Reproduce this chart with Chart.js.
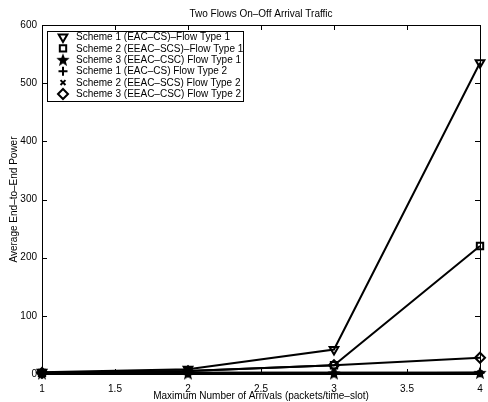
<!DOCTYPE html>
<html>
<head>
<meta charset="utf-8">
<script src="https://cdn.jsdelivr.net/npm/chart.js@4/dist/chart.umd.min.js"></script>
<style>
    html, body { margin: 0; padding: 0; background: #fff; }
    #wrap { width: 488px; height: 402px; }
</style>
</head>
<body>
<div id="wrap"><canvas id="chart" width="488" height="402"></canvas></div>
<script>
const xValues = [1, 2, 3, 4];
const xTicks = [1, 1.5, 2, 2.5, 3, 3.5, 4];
const yTicks = [0, 100, 200, 300, 400, 500, 600];

const s1f1 = [3, 8, 42, 535];
const s2f1 = [2, 5, 15, 220];
const s3f1 = [1, 1, 1, 2];
const s1f2 = [1, 2, 2, 2];
const s2f2 = [1, 2, 2, 2];
const s3f2 = [2, 5, 15, 28];

const seriesLabels = [
    'Scheme 1 (EAC\u2013CS)\u2013Flow Type 1',
    'Scheme 2 (EEAC\u2013SCS)\u2013Flow Type 1',
    'Scheme 3 (EEAC\u2013CSC) Flow Type 1',
    'Scheme 1 (EAC\u2013CS) Flow Type 2',
    'Scheme 2 (EEAC\u2013SCS) Flow Type 2',
    'Scheme 3 (EEAC\u2013CSC) Flow Type 2'
];

const FONT = '"Liberation Sans", Arial, Helvetica, sans-serif';

// filled five point star as a point image
function makeStar(size) {
    const c = document.createElement('canvas');
    c.width = size; c.height = size;
    const g = c.getContext('2d');
    const cx = size / 2, cy = size / 2 + 0.5, R = size / 2, r = R * 0.42;
    g.beginPath();
    for (let i = 0; i < 10; i++) {
        const rad = i % 2 === 0 ? R : r;
        const a = -Math.PI / 2 + i * Math.PI / 5;
        g.lineTo(cx + rad * Math.cos(a), cy + rad * Math.sin(a));
    }
    g.closePath();
    g.fillStyle = '#000';
    g.fill();
    return c;
}
const star = makeStar(14);

const styles = [
    { pointStyle: 'triangle', rotation: 180, radius: 5 },
    { pointStyle: 'rect', rotation: 0, radius: 4.5 },
    { pointStyle: star, rotation: 0, radius: 6 },
    { pointStyle: 'cross', rotation: 0, radius: 4.5 },
    { pointStyle: 'crossRot', rotation: 0, radius: 3.5 },
    { pointStyle: 'rectRot', rotation: 0, radius: 5 }
];

const allSeries = [s1f1, s2f1, s3f1, s1f2, s2f2, s3f2];

const datasets = allSeries.map((vals, i) => ({
    label: seriesLabels[i],
    data: vals.map((v, k) => ({ x: xValues[k], y: v })),
    borderColor: '#000',
    borderWidth: 2,
    backgroundColor: 'rgba(0,0,0,0)',
    pointStyle: styles[i].pointStyle,
    rotation: styles[i].rotation,
    pointRadius: styles[i].radius,
    pointBorderColor: '#000',
    pointBackgroundColor: 'rgba(0,0,0,0)',
    pointBorderWidth: 2,
    tension: 0,
    clip: false
}));

// axes box, inward ticks, titles and in-plot legend
const matlabFrame = {
    id: 'matlabFrame',
    afterDraw(chart) {
        const { ctx, chartArea: a, scales } = chart;
        ctx.save();
        ctx.strokeStyle = '#000';
        ctx.lineWidth = 1;
        ctx.strokeRect(a.left + 0.5, a.top + 0.5, a.right - a.left, a.bottom - a.top);
        ctx.beginPath();
        xTicks.forEach(t => {
            const px = Math.round(scales.x.getPixelForValue(t)) + 0.5;
            ctx.moveTo(px, a.bottom); ctx.lineTo(px, a.bottom - 5);
            ctx.moveTo(px, a.top); ctx.lineTo(px, a.top + 5);
        });
        yTicks.forEach(t => {
            const py = Math.round(scales.y.getPixelForValue(t)) + 0.5;
            ctx.moveTo(a.left, py); ctx.lineTo(a.left + 5, py);
            ctx.moveTo(a.right, py); ctx.lineTo(a.right - 5, py);
        });
        ctx.stroke();

        // titles
        ctx.fillStyle = '#000';
        ctx.font = '10px ' + FONT;
        ctx.textAlign = 'center';
        ctx.textBaseline = 'middle';
        ctx.fillText('Two Flows On\u2013Off Arrival Traffic', (a.left + a.right) / 2, 14);
        ctx.save();
        ctx.translate(14, (a.top + a.bottom) / 2);
        ctx.rotate(-Math.PI / 2);
        ctx.fillText('Average End\u2013to\u2013End Power', 0, 0);
        ctx.restore();

        // legend
        const lx = 47, ly = 31, lw = 196, lh = 70;
        ctx.fillStyle = '#fff';
        ctx.fillRect(lx, ly, lw, lh);
        ctx.lineWidth = 1;
        ctx.strokeRect(lx + 0.5, ly + 0.5, lw, lh);
        ctx.font = '10px ' + FONT;
        ctx.textAlign = 'left';
        seriesLabels.forEach((lab, i) => {
            const y = ly + 6 + i * 11.4;
            ctx.lineWidth = 2;
            ctx.strokeStyle = '#000';
            ctx.fillStyle = 'rgba(0,0,0,0)';
            Chart.helpers.drawPoint(ctx, {
                pointStyle: styles[i].pointStyle,
                rotation: styles[i].rotation,
                radius: styles[i].radius,
                borderWidth: 2
            }, 63, y);
            ctx.fillStyle = '#000';
            ctx.fillText(lab, 76, y + 0.5);
        });
        ctx.restore();
    }
};

new Chart(document.getElementById('chart').getContext('2d'), {
    type: 'line',
    data: { datasets },
    options: {
        responsive: false,
        animation: false,
        layout: { padding: { top: 25, right: 4, left: 0, bottom: 0 } },
        plugins: { legend: { display: false }, title: { display: false }, tooltip: { enabled: false } },
        scales: {
            x: {
                type: 'linear',
                min: 1, max: 4,
                afterBuildTicks: s => { s.ticks = xTicks.map(v => ({ value: v })); },
                afterFit: s => { s.height = 28; },
                grid: { display: false },
                border: { display: false },
                ticks: { color: '#000', font: { family: FONT, size: 10 }, padding: 1, maxRotation: 0, callback: v => String(v) },
                title: { display: true, text: 'Maximum Number of Arrivals (packets/time\u2013slot)', color: '#000', font: { family: FONT, size: 10 }, padding: { top: 0, bottom: 0 } }
            },
            y: {
                min: 0, max: 600,
                afterBuildTicks: s => { s.ticks = yTicks.map(v => ({ value: v })); },
                afterFit: s => { s.width = 42; },
                grid: { display: false, drawTicks: false },
                border: { display: false },
                ticks: { color: '#000', font: { family: FONT, size: 10 }, padding: 5, callback: v => String(v) },
                title: { display: false }
            }
        }
    },
    plugins: [matlabFrame]
});
</script>
</body>
</html>
